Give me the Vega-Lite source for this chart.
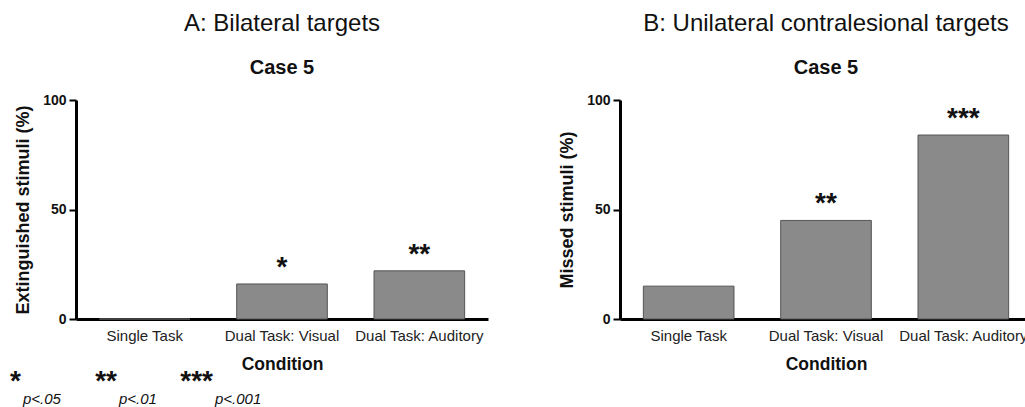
{
  "$schema": "https://vega.github.io/schema/vega-lite/v6.json",
  "padding": {"left": 10, "top": 12, "right": 0, "bottom": 0},
  "config": {
    "font": "Liberation Sans",
    "view": {"stroke": null},
    "title": {"fontSize": 24, "fontWeight": "normal", "color": "#111", "subtitleFontSize": 20, "subtitleFontWeight": "bold", "subtitleColor": "#111", "subtitlePadding": 22, "offset": 15, "anchor": "middle"},
    "axisY": {"domainColor": "#000", "domainWidth": 3, "tickColor": "#000", "tickWidth": 2, "tickSize": 7, "labelFontWeight": "bold", "labelFontSize": 14, "labelColor": "#111", "labelPadding": 3, "titleFontSize": 18, "titleFontWeight": "bold", "titleColor": "#111", "titlePadding": 10, "grid": false},
    "axisX": {"domainColor": "#000", "domainWidth": 3, "ticks": false, "tickSize": 0, "labelFontSize": 15, "labelColor": "#222", "labelPadding": 9, "labelAngle": 0, "labelLimit": 300, "titleFontSize": 17.5, "titleFontWeight": "bold", "titleColor": "#111", "titlePadding": 12, "grid": false}
  },
  "datasets": {
    "bilateral": [
      {"condition": "Single Task", "value": 0, "sig": ""},
      {"condition": "Dual Task: Visual", "value": 16, "sig": "*"},
      {"condition": "Dual Task: Auditory", "value": 22, "sig": "**"}
    ],
    "unilateral": [
      {"condition": "Single Task", "value": 15, "sig": ""},
      {"condition": "Dual Task: Visual", "value": 45, "sig": "**"},
      {"condition": "Dual Task: Auditory", "value": 84, "sig": "***"}
    ],
    "legend": [
      {"stars": "*", "label": "p<.05"},
      {"stars": "**", "label": "p<.01"},
      {"stars": "***", "label": "p<.001"}
    ]
  },
  "concat": [
    {
      "hconcat": [
        {
          "title": {"text": "A: Bilateral targets", "subtitle": "Case 5"},
          "width": 412,
          "height": 219,
          "data": {"name": "bilateral"},
          "encoding": {
            "x": {"field": "condition", "type": "nominal", "sort": null, "title": "Condition", "scale": {"paddingInner": 0.34, "paddingOuter": 0.17}},
            "y": {"field": "value", "type": "quantitative", "title": "Extinguished stimuli (%)", "scale": {"domain": [0, 100]}, "axis": {"values": [0, 50, 100]}}
          },
          "layer": [
            {"mark": {"type": "bar", "fill": "#8a8a8a", "stroke": "#555", "strokeWidth": 1}},
            {"mark": {"type": "text", "fontSize": 28, "fontWeight": "bold", "baseline": "alphabetic", "dy": -8, "color": "#111"}, "encoding": {"text": {"field": "sig"}}}
          ]
        },
        {
          "title": {"text": "B: Unilateral contralesional targets", "subtitle": "Case 5"},
          "width": 412,
          "height": 219,
          "data": {"name": "unilateral"},
          "encoding": {
            "x": {"field": "condition", "type": "nominal", "sort": null, "title": "Condition", "scale": {"paddingInner": 0.34, "paddingOuter": 0.17}},
            "y": {"field": "value", "type": "quantitative", "title": "Missed stimuli  (%)", "scale": {"domain": [0, 100]}, "axis": {"values": [0, 50, 100]}}
          },
          "layer": [
            {"mark": {"type": "bar", "fill": "#8a8a8a", "stroke": "#555", "strokeWidth": 1}},
            {"mark": {"type": "text", "fontSize": 28, "fontWeight": "bold", "baseline": "alphabetic", "dy": -8, "color": "#111"}, "encoding": {"text": {"field": "sig"}}}
          ]
        }
      ],
      "spacing": 132,
      "bounds": "flush"
    },
    {
      "width": 192,
      "height": 20,
      "data": {"name": "legend"},
      "encoding": {
        "x": {"field": "stars", "type": "nominal", "sort": null, "axis": null, "scale": {"type": "point", "padding": 0}}
      },
      "layer": [
        {"mark": {"type": "text", "fontSize": 28, "fontWeight": "bold", "align": "right", "baseline": "alphabetic", "dx": -55, "dy": 0, "color": "#111"}, "encoding": {"text": {"field": "stars"}}},
        {"mark": {"type": "text", "fontSize": 15, "fontStyle": "italic", "align": "left", "baseline": "alphabetic", "dx": -53, "dy": 14, "color": "#111"}, "encoding": {"text": {"field": "label"}}}
      ]
    }
  ],
  "columns": 1,
  "align": "none",
  "spacing": -5
}
